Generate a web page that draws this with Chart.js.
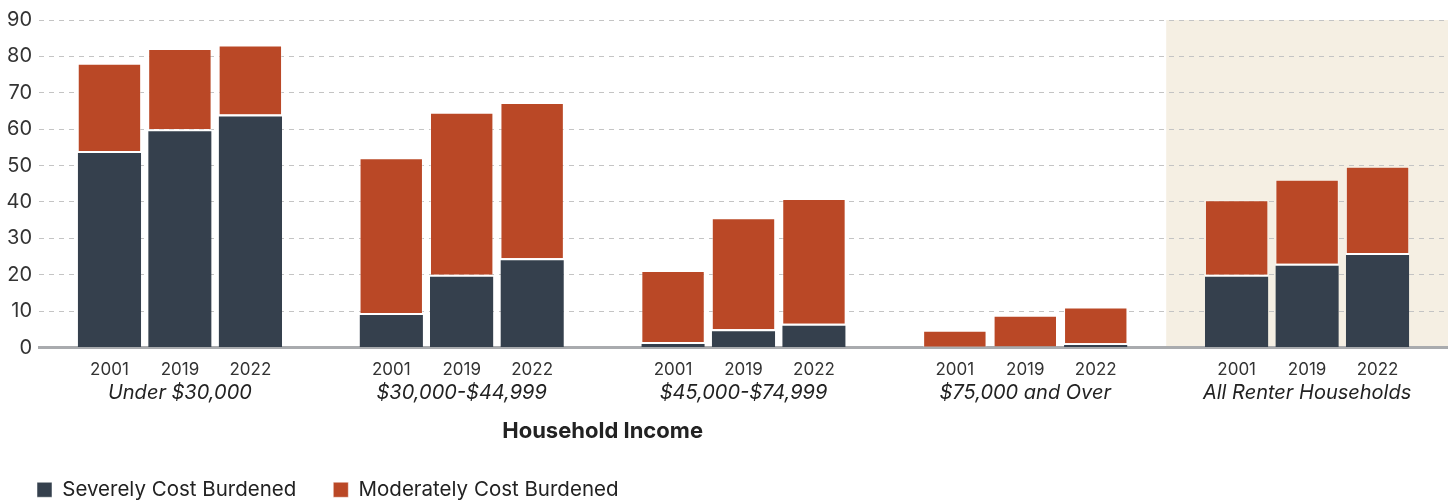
<!DOCTYPE html>
<html>
<head>
<meta charset="utf-8">
<script src="https://cdn.jsdelivr.net/npm/chart.js@4/dist/chart.umd.min.js"></script>
<style>
    html, body { margin: 0; padding: 0; background: #ffffff; }
    #wrap { width: 1448px; height: 504px; position: relative; }
</style>
</head>
<body>
<div id="wrap"><canvas id="burdenChart"></canvas></div>
<script>
// Годы внутри каждой группы дохода
const years = ['2001', '2019', '2022'];

// Группы дохода
const incomeGroups = ['Under $30,000', '$30,000-$44,999', '$45,000-$74,999', '$75,000 and Over', 'All Renter Households'];

// Доля арендаторов (%), по порядку: группа, затем год
const severeValues = [54, 60, 64, 9.5, 20, 24.5, 1.5, 5, 6.5, 0.2, 0.3, 1.2, 20, 23, 26];
const moderateValues = [24, 22, 19, 42.5, 44.5, 42.7, 19.5, 30.5, 34.3, 4.4, 8.4, 9.8, 20.5, 23.1, 23.7];

const yTicks = [0, 10, 20, 30, 40, 50, 60, 70, 80, 90];

// Каждая группа занимает 4 деления оси: 3 столбца и пробел
const slotsPerGroup = 4;
const barPositions = [];
const yearByPosition = {};
incomeGroups.forEach((g, gi) => {
    years.forEach((y, yi) => {
        const pos = gi * slotsPerGroup + 1 + yi;
        barPositions.push(pos);
        yearByPosition[pos] = y;
    });
});
const groupCenters = incomeGroups.map((g, gi) => gi * slotsPerGroup + 2);
const groupByPosition = {};
groupCenters.forEach((c, gi) => { groupByPosition[c] = incomeGroups[gi]; });

const fontFamily = 'Inter, "Noto Sans", sans-serif';

// Фон для группы «All Renter Households»
const bandPlugin = {
    id: 'allRentersBand',
    beforeDraw(chart) {
        const { ctx, chartArea, scales } = chart;
        const last = incomeGroups.length - 1;
        const x0 = scales.x.getPixelForValue(last * slotsPerGroup);
        const x1 = scales.x.getPixelForValue((last + 1) * slotsPerGroup);
        ctx.save();
        ctx.fillStyle = '#F5EFE3';
        ctx.fillRect(x0, chartArea.top, x1 - x0, chartArea.bottom - chartArea.top);
        ctx.restore();
    }
};

// Подпись оси по центру первых четырёх групп
const axisTitlePlugin = {
    id: 'incomeTitle',
    afterDraw(chart) {
        const { ctx, chartArea, scales } = chart;
        const cx = scales.x.getPixelForValue(2 * slotsPerGroup);
        ctx.save();
        ctx.font = 'bold 22px ' + fontFamily;
        ctx.fillStyle = '#222';
        ctx.textAlign = 'center';
        ctx.textBaseline = 'middle';
        ctx.fillText('Household Income', cx, chartArea.bottom + 84);
        ctx.restore();
    }
};

const ctx = document.getElementById('burdenChart').getContext('2d');
new Chart(ctx, {
    type: 'bar',
    data: {
        datasets: [{
            label: 'Severely Cost Burdened',
            data: barPositions.map((x, i) => ({ x: x, y: severeValues[i] })),
            backgroundColor: '#35404D',
            borderColor: '#ffffff',
            borderWidth: { top: 2, left: 0, right: 0, bottom: 0 },
            barPercentage: 0.9,
            categoryPercentage: 1.0,
            stack: 'burden'
        }, {
            label: 'Moderately Cost Burdened',
            data: barPositions.map((x, i) => ({ x: x, y: moderateValues[i] })),
            backgroundColor: '#BA4826',
            borderColor: 'rgba(255, 255, 255, 0.45)',
            borderWidth: 1,
            barPercentage: 0.9,
            categoryPercentage: 1.0,
            stack: 'burden'
        }]
    },
    options: {
        responsive: true,
        maintainAspectRatio: false,
        animation: false,
        layout: { padding: { top: 20, right: 0, left: 0, bottom: -6 } },
        plugins: {
            legend: {
                position: 'bottom',
                align: 'start',
                labels: {
                    boxWidth: 15,
                    boxHeight: 15,
                    padding: 37,
                    color: '#222',
                    font: { family: fontFamily, size: 20.5 }
                }
            },
            tooltip: { enabled: false }
        },
        scales: {
            x: {
                type: 'linear',
                offset: false,
                min: 0,
                max: incomeGroups.length * slotsPerGroup,
                stacked: true,
                grid: { display: false, offset: false },
                border: { display: true, color: '#A9ABAE', width: 3 },
                ticks: {
                    autoSkip: false,
                    maxRotation: 0,
                    padding: 4,
                    color: '#333',
                    font: { family: fontFamily, size: 17 },
                    callback: v => yearByPosition[v] || ''
                },
                afterBuildTicks: s => { s.ticks = barPositions.map(v => ({ value: v })); },
                afterFit: s => { s.height = 30; }
            },
            x2: {
                type: 'linear',
                position: 'bottom',
                offset: false,
                weight: 1,
                min: 0,
                max: incomeGroups.length * slotsPerGroup,
                grid: { display: false, offset: false },
                border: { display: false },
                ticks: {
                    autoSkip: false,
                    maxRotation: 0,
                    padding: -5,
                    color: '#222',
                    font: { family: fontFamily, size: 20, style: 'italic' },
                    callback: v => groupByPosition[v] || ''
                },
                afterBuildTicks: s => { s.ticks = groupCenters.map(v => ({ value: v })); },
                afterFit: s => { s.height = 65; }
            },
            y: {
                stacked: true,
                min: 0,
                max: 90,
                grid: { color: '#C4C4C4', lineWidth: 1, drawTicks: false },
                border: { display: false, dash: [5, 5] },
                ticks: {
                    padding: 7,
                    color: '#333',
                    font: { family: fontFamily, size: 20 }
                },
                afterBuildTicks: s => { s.ticks = yTicks.map(v => ({ value: v })); },
                afterFit: s => { s.width = 39; }
            }
        }
    },
    plugins: [bandPlugin, axisTitlePlugin]
});
</script>
</body>
</html>
